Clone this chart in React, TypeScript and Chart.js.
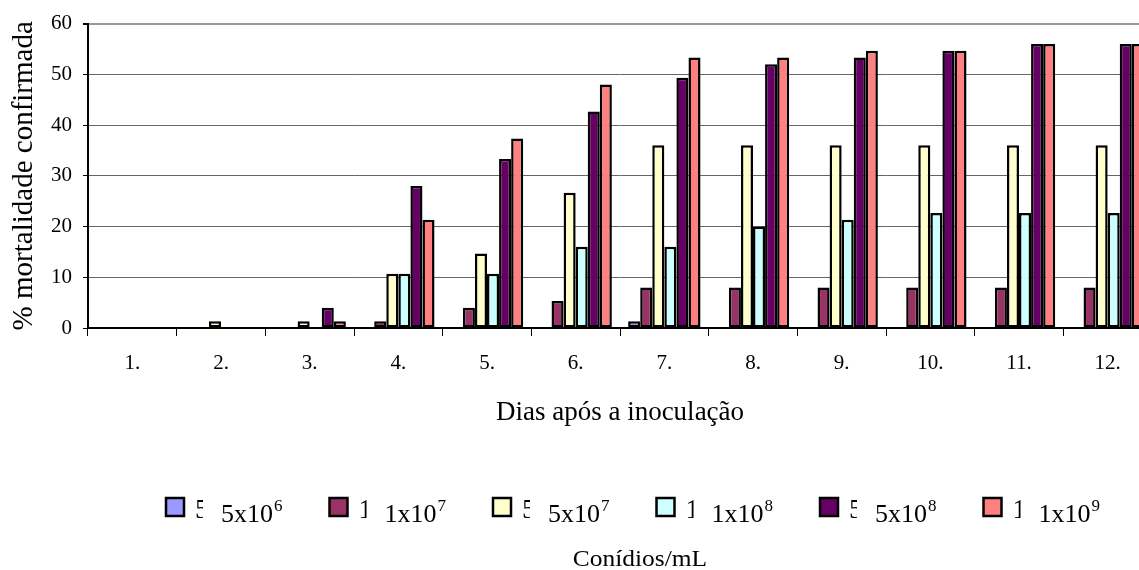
import React, { useEffect, useRef } from "react";
import { Chart, registerables } from "chart.js";

Chart.register(...registerables);

const categories = ["1.", "2.", "3.", "4.", "5.", "6.", "7.", "8.", "9.", "10.", "11.", "12."];

const s5e6 = [0, 0, 0, 0, 0, 0, 1.33, 0, 0, 0, 0, 0];
const s1e7 = [0, 0, 0, 1.33, 4, 5.33, 8, 8, 8, 8, 8, 8];
const s5e7 = [0, 1.33, 1.33, 10.67, 14.67, 26.67, 36, 36, 36, 36, 36, 36];
const s1e8 = [0, 0, 0, 10.67, 10.67, 16, 16, 20, 21.33, 22.67, 22.67, 22.67];
const s5e8 = [0, 0, 4, 28, 33.33, 42.67, 49.33, 52, 53.33, 54.67, 56, 56];
const s1e9 = [0, 0, 1.33, 21.33, 37.33, 48, 53.33, 53.33, 54.67, 54.67, 56, 56];

const seriesBase = ["5x10", "1x10", "5x10", "1x10", "5x10", "1x10"];
const seriesExp = ["6", "7", "7", "8", "8", "9"];
const seriesColors = ["#9999FF", "#993366", "#FFFFCC", "#CCFFFF", "#660066", "#FF8080"];
const seriesValues = [s5e6, s1e7, s5e7, s1e8, s5e8, s1e9];

const yTitle = "% mortalidade confirmada";
const xTitle = "Dias após a inoculação";
const legendTitle = "Conídios/mL";

const FONT = "'Liberation Serif', 'Times New Roman', serif";

const legendPlugin = {
  id: "customLegend",
  afterDraw(chart: any) {
    const ctx = chart.ctx;
    ctx.save();
    chart.data.datasets.forEach((ds: any, i: number) => {
      const bx = 166 + i * 163.5;
      const by = 498;
      ctx.fillStyle = ds.backgroundColor;
      ctx.fillRect(bx, by, 18, 18);
      ctx.lineWidth = 2.5;
      ctx.strokeStyle = "#000";
      ctx.strokeRect(bx, by, 18, 18);
      // clipped first character
      ctx.save();
      ctx.beginPath();
      ctx.rect(bx + 29, by - 8, 8, 36);
      ctx.clip();
      ctx.fillStyle = "#000";
      ctx.font = `28px ${FONT}`;
      ctx.textBaseline = "alphabetic";
      ctx.textAlign = "left";
      ctx.fillText(ds.label.charAt(0), bx + 29, 518);
      ctx.restore();
      // label with superscript
      ctx.save();
      ctx.translate(bx + 55, 522);
      ctx.fillStyle = "#000";
      ctx.textBaseline = "alphabetic";
      ctx.textAlign = "left";
      ctx.font = `26px ${FONT}`;
      const base = seriesBase[i];
      ctx.fillText(base, 0, 0);
      const w = ctx.measureText(base).width;
      ctx.font = `17px ${FONT}`;
      ctx.fillText(seriesExp[i], w + 1, -11);
      ctx.restore();
    });
    ctx.save();
    ctx.translate(640, 566);
    ctx.scale(1.06, 1);
    ctx.fillStyle = "#000";
    ctx.font = `24px ${FONT}`;
    ctx.textAlign = "center";
    ctx.textBaseline = "alphabetic";
    ctx.fillText(legendTitle, 0, 0);
    ctx.restore();
    ctx.restore();
  },
};

export default function App() {
  const canvasRef = useRef<HTMLCanvasElement | null>(null);

  useEffect(() => {
    if (!canvasRef.current) return;
    const chart = new Chart(canvasRef.current, {
      type: "bar",
      data: {
        labels: categories,
        datasets: seriesValues.map((vals, i) => ({
          label: seriesBase[i] + seriesExp[i],
          data: vals,
          backgroundColor: seriesColors[i],
          borderColor: "#000",
          borderWidth: (c: any) => (c.raw ? 2.5 : 0),
          borderSkipped: false,
          categoryPercentage: 0.8165,
          barPercentage: 1,
        })),
      },
      options: {
        responsive: false,
        animation: false,
        devicePixelRatio: 1,
        layout: { padding: { top: 21, right: 8, bottom: 0, left: 0 } },
        plugins: {
          legend: { display: false },
          tooltip: { enabled: false },
        },
        scales: {
          x: {
            offset: true,
            afterFit: (axis: any) => {
              axis.height = 242;
            },
            grid: {
              offset: true,
              drawOnChartArea: false,
              drawTicks: true,
              tickLength: 8,
              color: "#000",
              lineWidth: 1,
            },
            border: { color: "#000", width: 2 },
            ticks: {
              color: "#000",
              font: { family: FONT, size: 21 },
              padding: 15,
              maxRotation: 0,
              autoSkip: false,
            },
            title: {
              display: true,
              text: xTitle,
              color: "#000",
              font: { family: FONT, size: 27 },
              padding: { top: 0, bottom: 141 },
            },
          },
          y: {
            min: 0,
            max: 60,
            afterFit: (axis: any) => {
              axis.width = 88;
            },
            grid: {
              color: (c: any) => (c.tick && c.tick.value === 60 ? "#999" : "#666"),
              lineWidth: (c: any) => (c.tick && c.tick.value === 60 ? 2 : 1),
              tickColor: "#000",
              tickLength: 5,
              drawTicks: true,
            },
            border: { color: "#000", width: 2 },
            ticks: {
              stepSize: 10,
              color: "#000",
              font: { family: FONT, size: 21 },
              padding: 11,
            },
            title: {
              display: true,
              text: yTitle,
              color: "#000",
              font: { family: FONT, size: 29 },
              padding: { top: 7, bottom: 0 },
            },
          },
        },
      },
      plugins: [legendPlugin],
    });
    return () => chart.destroy();
  }, []);

  return (
    <div
      style={{
        position: "absolute",
        left: 0,
        top: 0,
        width: 1139,
        height: 570,
        overflow: "hidden",
        background: "#fff",
      }}
    >
      <canvas ref={canvasRef} width={1160} height={570} style={{ display: "block" }} />
    </div>
  );
}
